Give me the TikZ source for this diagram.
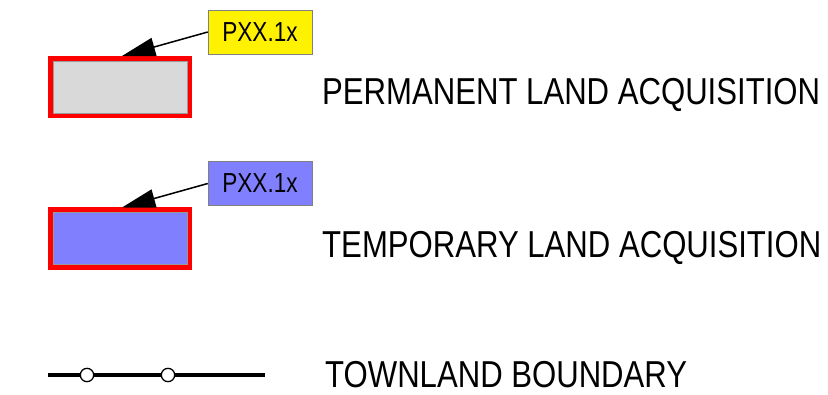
\documentclass[tikz,border=0pt]{standalone}
\usepackage{fontspec}
\newfontfamily\legendfont[FakeStretch=0.83]{Liberation Sans}
\newfontfamily\tagfont[FakeStretch=0.82]{Liberation Sans}
\usetikzlibrary{arrows.meta}
\definecolor{parcelgray}{RGB}{217,217,217}
\definecolor{parcelblue}{RGB}{128,128,255}
\tikzset{
	parcel/.style={draw=red, line width=0.15cm, minimum width=4.17cm, minimum height=1.71cm, inner sep=0pt},
	parceltag/.style={draw=gray, line width=0.4pt, minimum width=3.12cm, minimum height=1.32cm, inner sep=0pt, font=\tagfont\fontsize{23.5}{24}\selectfont},
	pointer/.style={line width=1.3pt, -{Triangle[length=1.0cm, width=0.56cm]}},
	legendtext/.style={anchor=base west, inner sep=0pt, font=\legendfont\fontsize{32}{32}\selectfont},
	boundary/.style={line width=0.1cm},
	marker/.style={circle, draw, line width=1.1pt, fill=white, minimum size=0.4cm, inner sep=0pt}
}
\begin{document}
\begin{tikzpicture}[x=0.03cm, y=-0.03cm]
	\useasboundingbox (0,0) rectangle (828,395); % Bildgroesse wie Vorlage

	% permanent
	\node[parcel, fill=parcelgray] (perm) at (120,87) {};
	\draw[gray!80, line width=0.5pt] ([xshift=0.15cm, yshift=-0.15cm]perm.north west) rectangle ([xshift=-0.15cm, yshift=0.15cm]perm.south east);
	\node[parceltag, fill=yellow] (permtag) at (260,32) {PXX.1x};
	\draw[pointer] (permtag.west) -- ([xshift=0.06cm]perm.north);
	\node[legendtext] (permtext) at (322,105) {PERMANENT LAND ACQUISITION};

	% temporary
	\node[parcel, fill=parcelblue] (temp) at (120,238.5) {};
	\draw[gray!80, line width=0.5pt] ([xshift=0.15cm, yshift=-0.15cm]temp.north west) rectangle ([xshift=-0.15cm, yshift=0.15cm]temp.south east);
	\node[parceltag, fill=parcelblue] (temptag) at (260,183.5) {PXX.1x};
	\draw[pointer] (temptag.west) -- ([xshift=0.06cm]temp.north);
	\node[legendtext] (temptext) at (322,257.5) {TEMPORARY LAND ACQUISITION};

	% townland
	\coordinate (bleft) at (48,375);
	\coordinate (bright) at (265,375);
	\draw[boundary] (bleft) -- (bright);
	\node[marker] (bmark1) at (87,375) {};
	\node[marker] (bmark2) at (168,375) {};
	\node[legendtext] (bndtext) at (325,387) {TOWNLAND BOUNDARY};

	%\draw[help lines, step=50] (0,0) grid (828,395);
\end{tikzpicture}
\end{document}
